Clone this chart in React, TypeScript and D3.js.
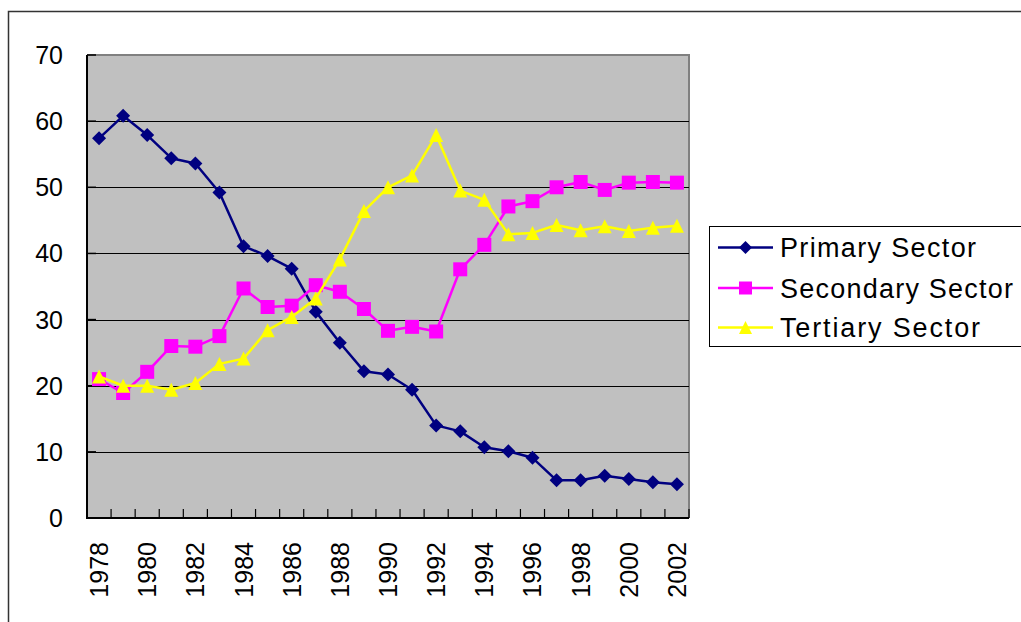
import React from 'react';
import * as d3 from 'd3';

// years on the category axis
const years = d3.range(1978, 2003).map(String);

// share of each sector (%)
const primary = [57.4, 60.8, 57.9, 54.4, 53.6, 49.2, 41.1, 39.6, 37.7, 31.2, 26.5, 22.2, 21.7, 19.4, 14.0, 13.1, 10.7, 10.1, 9.1, 5.7, 5.7, 6.4, 5.9, 5.4, 5.1];
const secondary = [21.0, 18.9, 22.1, 26.0, 25.9, 27.5, 34.7, 31.9, 32.1, 35.2, 34.2, 31.6, 28.3, 28.9, 28.2, 37.6, 41.3, 47.1, 47.9, 50.0, 50.8, 49.6, 50.7, 50.8, 50.7];
const tertiary = [21.4, 20.0, 20.0, 19.4, 20.4, 23.3, 24.1, 28.4, 30.4, 33.2, 39.1, 46.4, 50.0, 51.8, 57.9, 49.5, 48.1, 42.9, 43.1, 44.3, 43.5, 44.1, 43.4, 43.9, 44.2];

const seriesNames = ['Primary Sector', 'Secondary Sector', 'Tertiary Sector'];
const yTicks = [0, 10, 20, 30, 40, 50, 60, 70];

const W = 1021;
const H = 622;
const plot = { left: 87, right: 689, top: 55, bottom: 518 };
const font = '"Liberation Sans", Arial, sans-serif';

const colors = ['#000080', '#FF00FF', '#FFFF00'];

function marker(kind: number, r: number) {
  if (kind === 0) return `M0,${-r}L${r},0L0,${r}L${-r},0Z`;
  if (kind === 1) return `M${-r},${-r}H${r}V${r}H${-r}Z`;
  return `M0,${-r}L${r},${r}H${-r}Z`;
}

export default function App() {
  const x = d3.scaleBand<string>().domain(years).range([plot.left, plot.right]).padding(0);
  const y = d3.scaleLinear().domain([0, 70]).range([plot.bottom, plot.top]);
  const cx = (d: string) => (x(d) as number) + x.bandwidth() / 2;

  const line = d3.line<number>()
    .x((_, i) => cx(years[i]))
    .y(d => y(d));

  const series = [primary, secondary, tertiary];
  const sizes = [7, 7, 7];

  // tick marks sit at category boundaries
  const bounds = years.map(d => x(d) as number).concat([plot.right]);
  const legendRows = [247.5, 288, 327.5];

  return (
    <svg width={W} height={H} style={{ position: 'absolute', left: 0, top: 0, background: '#fff' }}>
      <rect x={8.5} y={11.5} width={W + 20} height={H + 20} fill="#fff" stroke="#333" strokeWidth={1.5} />

      <rect x={plot.left} y={plot.top} width={plot.right - plot.left} height={plot.bottom - plot.top} fill="#C0C0C0" />
      <path d={`M${plot.left},${plot.top}H${plot.right}V${plot.bottom}`} fill="none" stroke="#808080" strokeWidth={2} />

      {yTicks.filter(t => t > 0 && t < 70).map(t => (
        <line key={t} x1={plot.left} x2={plot.right} y1={Math.round(y(t)) + 0.5} y2={Math.round(y(t)) + 0.5} stroke="#000" strokeWidth={1} />
      ))}

      {yTicks.map(t => (
        <g key={t}>
          <line x1={plot.left} x2={plot.left + 9} y1={y(t)} y2={y(t)} stroke="#000" strokeWidth={1.5} />
          <text x={63} y={y(t)} dy="0.36em" textAnchor="end" fontFamily={font} fontSize={25}>{t}</text>
        </g>
      ))}

      {bounds.map((b, i) => (
        <line key={i} x1={b} x2={b} y1={plot.bottom} y2={plot.bottom - 9} stroke="#000" strokeWidth={1.2} />
      ))}

      <path d={`M${plot.left},${plot.top}V${plot.bottom}H${plot.right}`} fill="none" stroke="#000" strokeWidth={2} />

      {years.filter((_, i) => i % 2 === 0).map(d => (
        <text key={d} transform={`translate(${cx(d)},542) rotate(-90)`} dy="0.36em" textAnchor="end" fontFamily={font} fontSize={25}>{d}</text>
      ))}

      {series.map((s, k) => (
        <g key={k}>
          <path d={line(s) || ''} fill="none" stroke={colors[k]} strokeWidth={2.5} strokeLinejoin="round" />
          {s.map((v, i) => (
            <path key={i} d={marker(k, sizes[k])} transform={`translate(${cx(years[i])},${y(v)})`} fill={colors[k]} />
          ))}
        </g>
      ))}

      <rect x={709.5} y={226.5} width={330} height={120} fill="#fff" stroke="#000" strokeWidth={1} />
      {seriesNames.map((n, k) => (
        <g key={n}>
          <line x1={718} x2={773} y1={legendRows[k]} y2={legendRows[k]} stroke={colors[k]} strokeWidth={2.5} />
          <path d={marker(k, 6.5)} transform={`translate(745.5,${legendRows[k]})`} fill={colors[k]} />
          <text x={780} y={legendRows[k]} dy="0.36em" fontFamily={font} fontSize={27}
            textLength={[196, 233, 200][k]} lengthAdjust="spacing">{n}</text>
        </g>
      ))}
    </svg>
  );
}
